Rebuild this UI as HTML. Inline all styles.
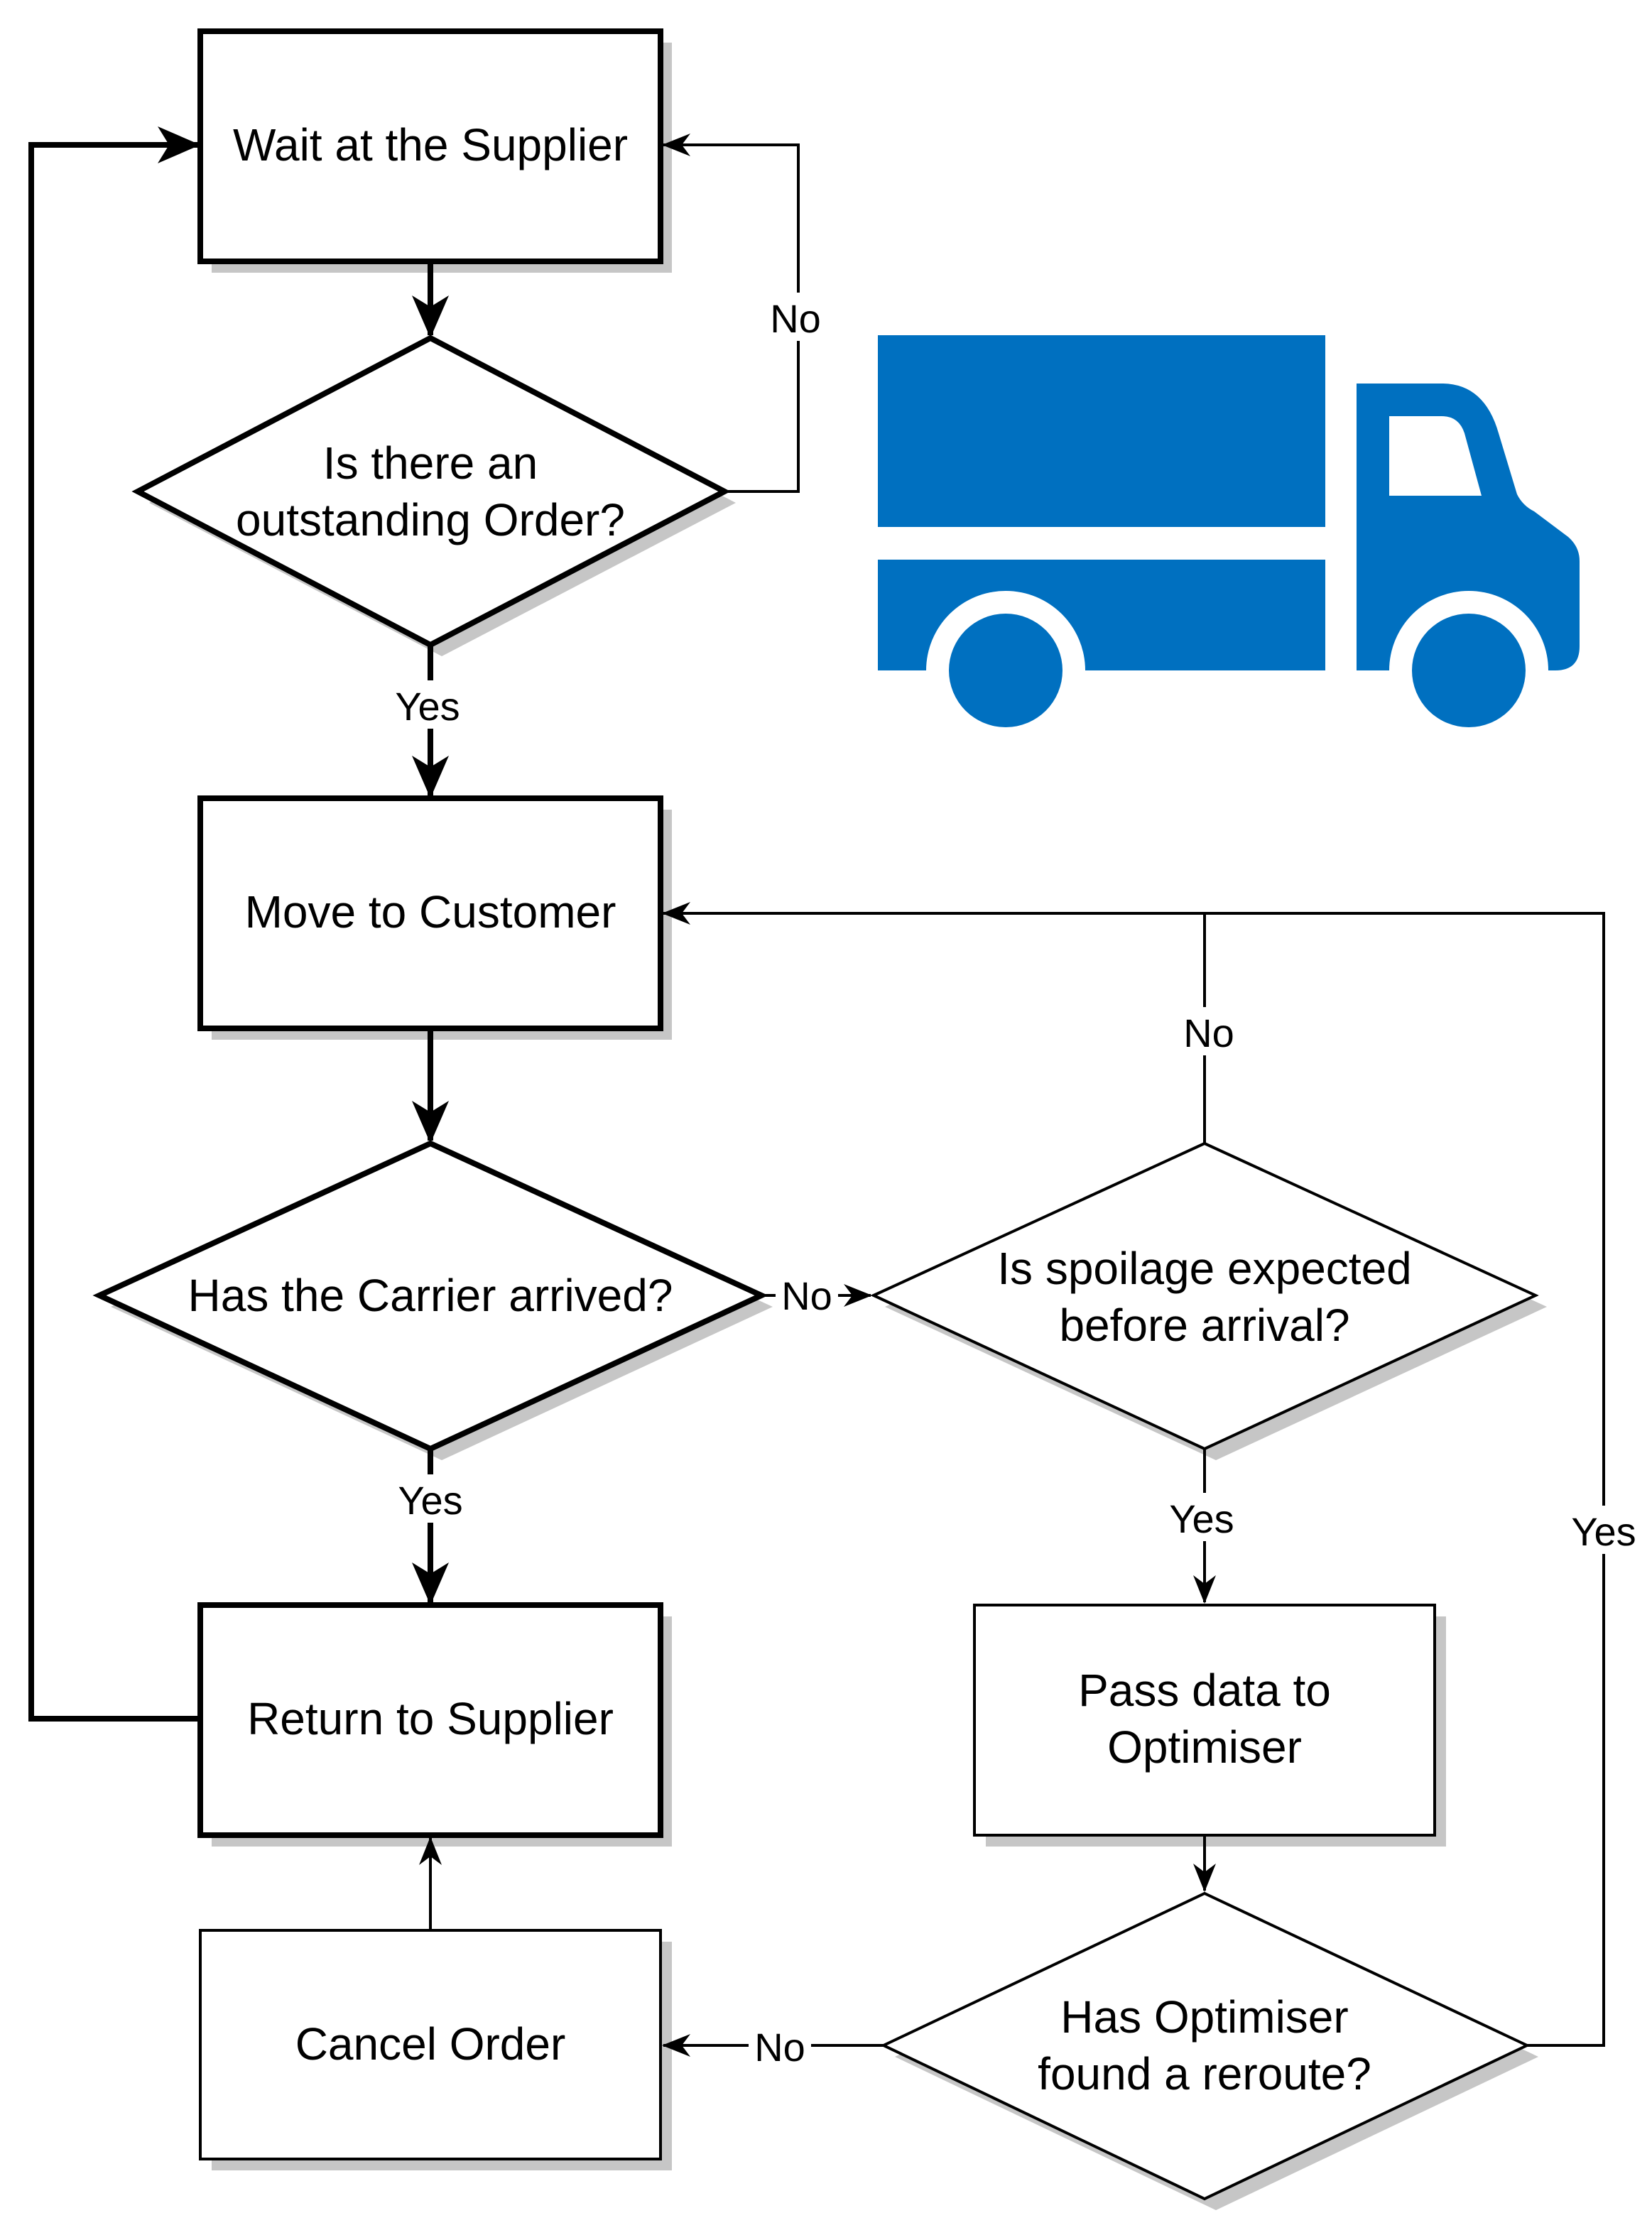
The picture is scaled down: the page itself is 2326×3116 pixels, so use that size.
<!DOCTYPE html>
<html><head><meta charset="utf-8"><style>
html,body{margin:0;padding:0;background:#fff;}
svg{display:block;}
text{font-family:"Liberation Sans",Arial,sans-serif;fill:#000;}
</style></head><body>
<svg width="2326" height="3116" viewBox="0 0 1163 1558" xmlns="http://www.w3.org/2000/svg">
<defs>
<marker id="a" markerWidth="20" markerHeight="16" refX="19" refY="8" orient="auto" markerUnits="userSpaceOnUse" viewBox="0 0 20 16"><path d="M0,0 L20,8 L0,16 L6,8 Z" fill="#000"/></marker>
<marker id="b" markerWidth="30" markerHeight="26" refX="28" refY="13" orient="auto" markerUnits="userSpaceOnUse" viewBox="0 0 30 26"><path d="M0,0 L30,13 L0,26 L8,13 Z" fill="#000"/></marker>
</defs>
<rect width="1163" height="1558" fill="#fff"/>
<g fill="#c6c6c6">
<rect x="149" y="30" width="324" height="162"/>
<rect x="149" y="570" width="324" height="162"/>
<rect x="149" y="1138" width="324" height="162"/>
<rect x="149" y="1367" width="324" height="161"/>
<rect x="694" y="1138" width="324" height="162"/>
<polygon points="105,354 311,246 518,354 311,462"/>
<polygon points="78,920 311,813 544,920 311,1028"/>
<polygon points="623,920 856,813 1089,920 856,1028"/>
<polygon points="630,1448 856,1341 1083,1448 856,1556"/>
</g>
<g fill="#fff" stroke="#000" stroke-width="4">
<rect x="141" y="22" width="324" height="162"/>
<rect x="141" y="562" width="324" height="162"/>
<rect x="141" y="1130" width="324" height="162"/>
<polygon points="97,346 303,238 510,346 303,454"/>
<polygon points="70,912 303,805 536,912 303,1020"/>
</g>
<g fill="#fff" stroke="#000" stroke-width="2">
<rect x="141" y="1359" width="324" height="161"/>
<rect x="686" y="1130" width="324" height="162"/>
<polygon points="615,912 848,805 1081,912 848,1020"/>
<polygon points="622,1440 848,1333 1075,1440 848,1548"/>
</g>
<g fill="none" stroke="#000" stroke-width="4">
<path d="M303,184 V236" marker-end="url(#b)"/>
<path d="M303,454 V560" marker-end="url(#b)"/>
<path d="M303,724 V803" marker-end="url(#b)"/>
<path d="M303,1020 V1128" marker-end="url(#b)"/>
<path d="M141,1210 H22 V102 H139" marker-end="url(#b)"/>
</g>
<g fill="none" stroke="#000" stroke-width="2">
<path d="M510,346 H562 V102 H467" marker-end="url(#a)"/>
<path d="M536,912 H613" marker-end="url(#a)"/>
<path d="M848,805 V643 H467" marker-end="url(#a)"/>
<path d="M1075,1440 H1129 V643 H848"/>
<path d="M848,1020 V1128" marker-end="url(#a)"/>
<path d="M848,1292 V1331" marker-end="url(#a)"/>
<path d="M622,1440 H467" marker-end="url(#a)"/>
<path d="M303,1359 V1294" marker-end="url(#a)"/>
</g>
<g fill="#fff">
<rect x="538" y="206" width="46" height="34"/>
<rect x="274" y="479" width="58" height="34"/>
<rect x="828" y="709" width="46" height="34"/>
<rect x="546" y="895" width="44" height="34"/>
<rect x="817" y="1051" width="58" height="34"/>
<rect x="274" y="1038" width="58" height="34"/>
<rect x="1100" y="1060" width="58" height="34"/>
<rect x="527" y="1424" width="44" height="34"/>
</g>
<g font-size="28" text-anchor="middle">
<text x="560" y="234">No</text>
<text x="301" y="507">Yes</text>
<text x="851" y="737">No</text>
<text x="568" y="922">No</text>
<text x="846" y="1079">Yes</text>
<text x="303" y="1066">Yes</text>
<text x="1129" y="1088">Yes</text>
<text x="549" y="1451">No</text>
</g>
<g font-size="32" text-anchor="middle">
<text x="303" y="113">Wait at the Supplier</text>
<text x="303" y="337">Is there an</text>
<text x="303" y="377">outstanding Order?</text>
<text x="303" y="653">Move to Customer</text>
<text x="303" y="923">Has the Carrier arrived?</text>
<text x="848" y="904">Is spoilage expected</text>
<text x="848" y="944">before arrival?</text>
<text x="303" y="1221">Return to Supplier</text>
<text x="848" y="1201">Pass data to</text>
<text x="848" y="1241">Optimiser</text>
<text x="848" y="1431">Has Optimiser</text>
<text x="848" y="1471">found a reroute?</text>
<text x="303" y="1450">Cancel Order</text>
</g>
<g fill="#0070c0">
<rect x="618" y="236" width="315" height="135"/>
<rect x="618" y="394" width="315" height="78"/>
<path d="M955,270 H1015 Q1045,270 1055,305 L1068,348 Q1072,356 1080,360 L1104,378 Q1112,385 1112,395 V455 Q1112,472 1095,472 H955 Z"/>
</g>
<g fill="#fff">
<circle cx="708" cy="472" r="56"/>
<circle cx="1034" cy="472" r="56"/>
<rect x="600" y="472" width="520" height="60"/>
<path d="M978,293 H1015 Q1027,293 1031,305 L1043,349 H978 Z"/>
</g>
<g fill="#0070c0">
<circle cx="708" cy="472" r="40"/>
<circle cx="1034" cy="472" r="40"/>
</g>
</svg>
</body></html>
